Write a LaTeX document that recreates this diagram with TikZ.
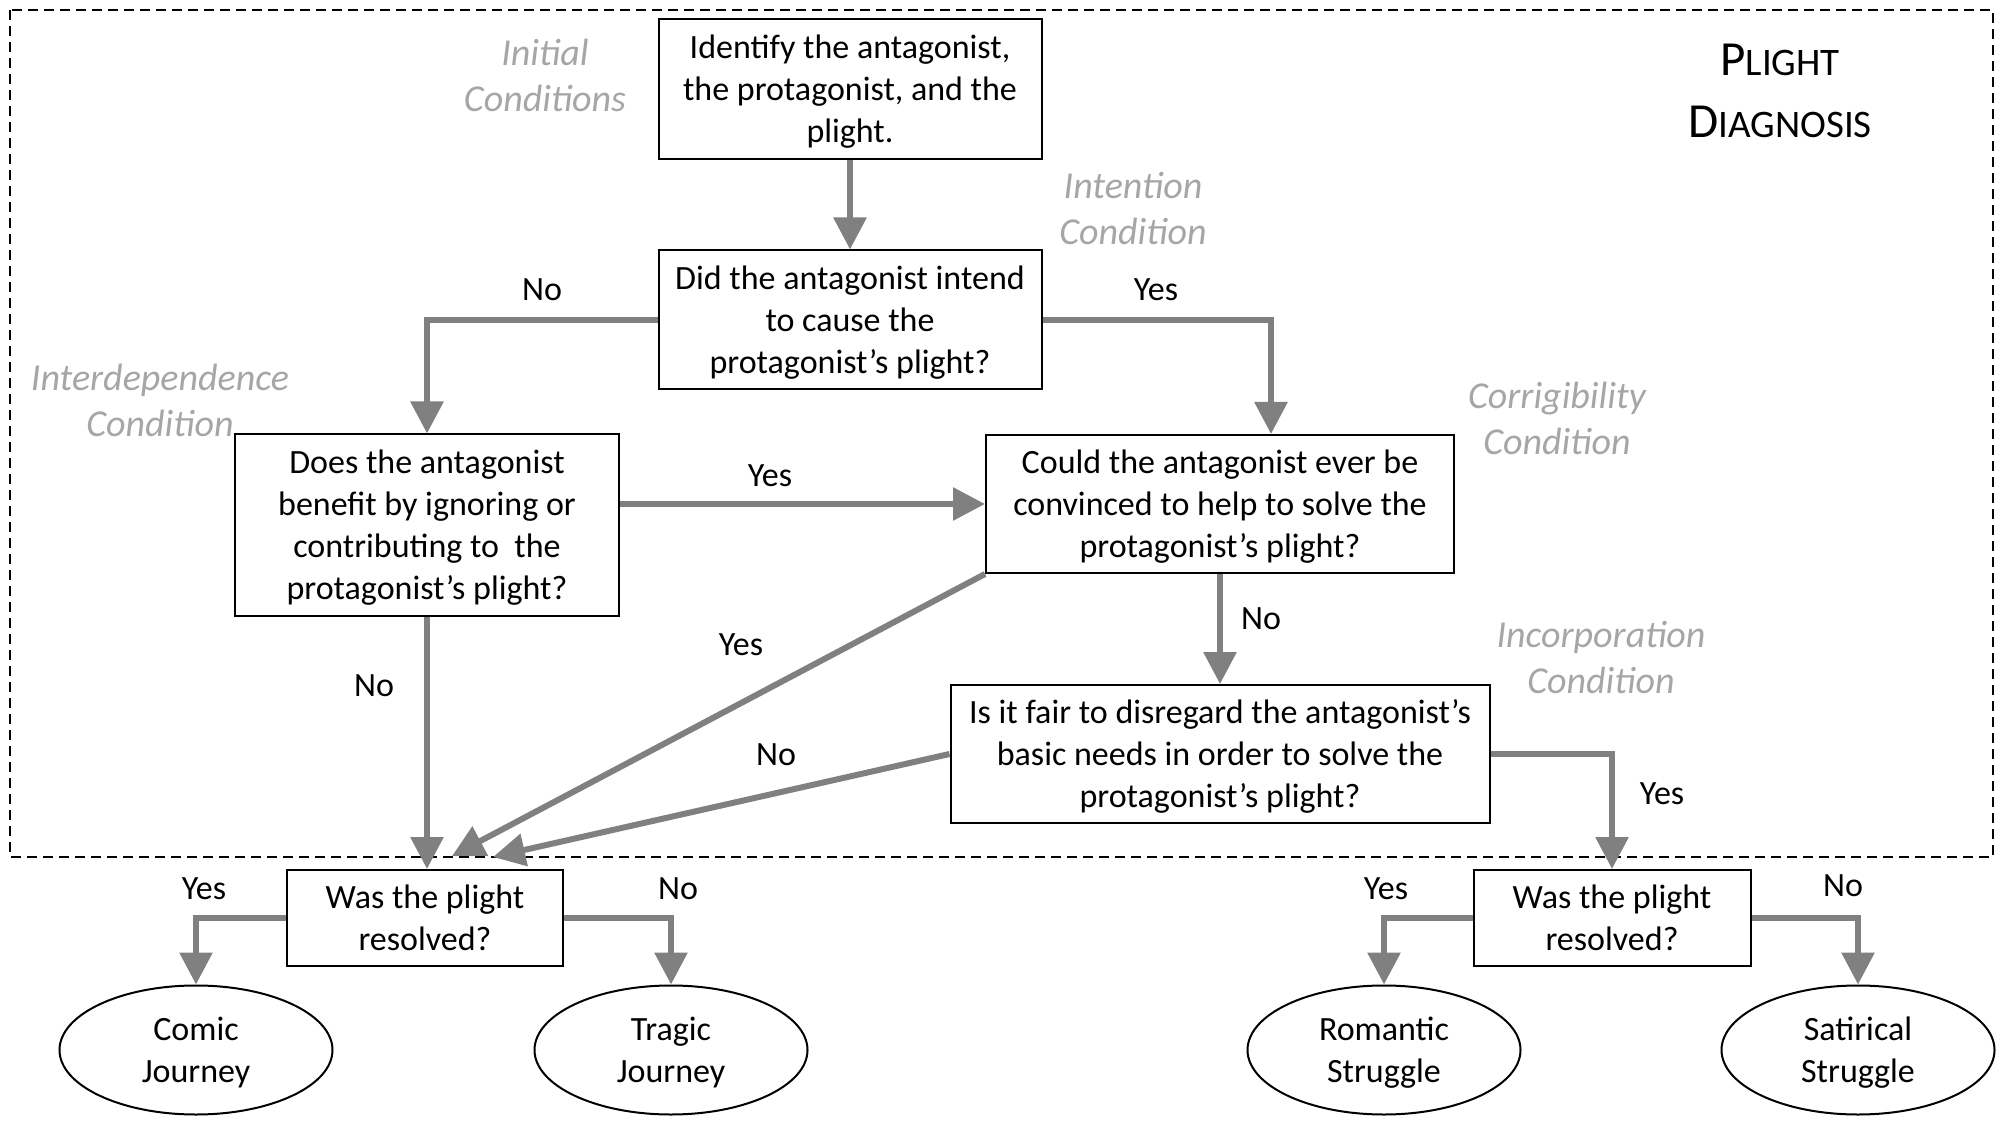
\documentclass[tikz,border=0pt]{standalone}
\usepackage{fontspec}
\setmainfont{Carlito}
\usetikzlibrary{arrows.meta,shapes.geometric}

\begin{document}
\begin{tikzpicture}[x=0.5pt,y=-0.5pt,>={Triangle[width=16pt,length=16pt]},
  font=\fontsize{17}{21}\selectfont,
  box/.style={draw,line width=1pt,align=center,inner sep=2pt,text depth=0pt},
  flow/.style={->,line width=3pt,draw=black!50},
  cond/.style={text=black!35,font=\fontsize{19}{23}\selectfont\itshape,align=center},
  goal/.style={draw,line width=1pt,ellipse,align=center,minimum width=136.5pt,minimum height=64.5pt,inner sep=0pt,text depth=0pt}]
\useasboundingbox (0,0) rectangle (2011,1127);
\draw[line width=1pt,dash pattern=on 5pt off 3pt](10,10) rectangle (1993,857);

\node(init)[box,minimum width=191.5pt,minimum height=70pt] at (850,89) {Identify the antagonist,\\the protagonist, and the\\plight.};
\node(intent)[box,minimum width=191.5pt,minimum height=69.5pt] at (850,320) {Did the antagonist intend\\to cause the\\protagonist’s plight?};
\node(interdep)[box,minimum width=192pt,minimum height=90.5pt] at (427,525) {Does the antagonist\\benefit by ignoring or\\contributing to~ the\\protagonist’s plight?};
\node(corrig)[box,minimum width=234pt,minimum height=69pt] at (1220,504) {Could the antagonist ever be\\convinced to help to solve the\\protagonist’s plight?};
\node(fair)[box,minimum width=269.5pt,minimum height=69pt] at (1220,754) {Is it fair to disregard the antagonist’s\\basic needs in order to solve the\\protagonist’s plight?};
\node(resA)[box,minimum width=138pt,minimum height=48pt] at (425,918) {Was the plight\\resolved?};
\node(resB)[box,minimum width=138.5pt,minimum height=48pt] at (1612,918) {Was the plight\\resolved?};

\foreach \t/\x[count=\i] in {{Comic\\Journey}/196,{Tragic\\Journey}/671,{Romantic\\Struggle}/1384,{Satirical\\Struggle}/1858}
  \node(end\i)[goal] at (\x,1050){\t};

\node(title)[align=center,font=\fontsize{24.5}{31}\selectfont] at (1780,91) {P{\fontsize{19.5}{31}\selectfont LIGHT}\\D{\fontsize{19.5}{31}\selectfont IAGNOSIS}};

\foreach \t/\x/\y[count=\i] in {{Initial\\Conditions}/545/75,{Intention\\Condition}/1133/209,{Interdependence\\Condition}/160/400,{Corrigibility\\Condition}/1557/418,{Incorporation\\Condition}/1601/658}
  \node(cond\i)[cond] at (\x,\y){\t};

\draw[flow](init)--(intent);
\draw[flow](intent.west)-|(interdep.north);
\draw[flow](intent.east)-|([xshift=25.5pt]corrig.north);
\draw[flow](interdep.east|-corrig.west)--(corrig.west);
\draw[flow](interdep.south)--(interdep.south|-resA.north);
\coordinate(tipA) at (452,856);
\coordinate(tipB) at (493,857);
\draw[flow](corrig.south west)--(tipA);
\draw[flow](fair.west)--(tipB);
\draw[flow](corrig)--(fair);
\draw[flow](fair.east)-|(resB.north);
\draw[flow](resA.west)-|(end1.north);
\draw[flow](resA.east)-|(end2.north);
\draw[flow](resB.west)-|(end3.north);
\draw[flow](resB.east)-|(end4.north);

\foreach \t/\x/\y[count=\i] in {No/542/290,Yes/1156/290,Yes/770/476,No/374/686,Yes/741/645,No/776/755,No/1261/619,Yes/1662/794,Yes/204/889,No/678/889,Yes/1386/889,No/1843/886}
  \node(ans\i) at (\x,\y){\t};

\end{tikzpicture}
\end{document}
